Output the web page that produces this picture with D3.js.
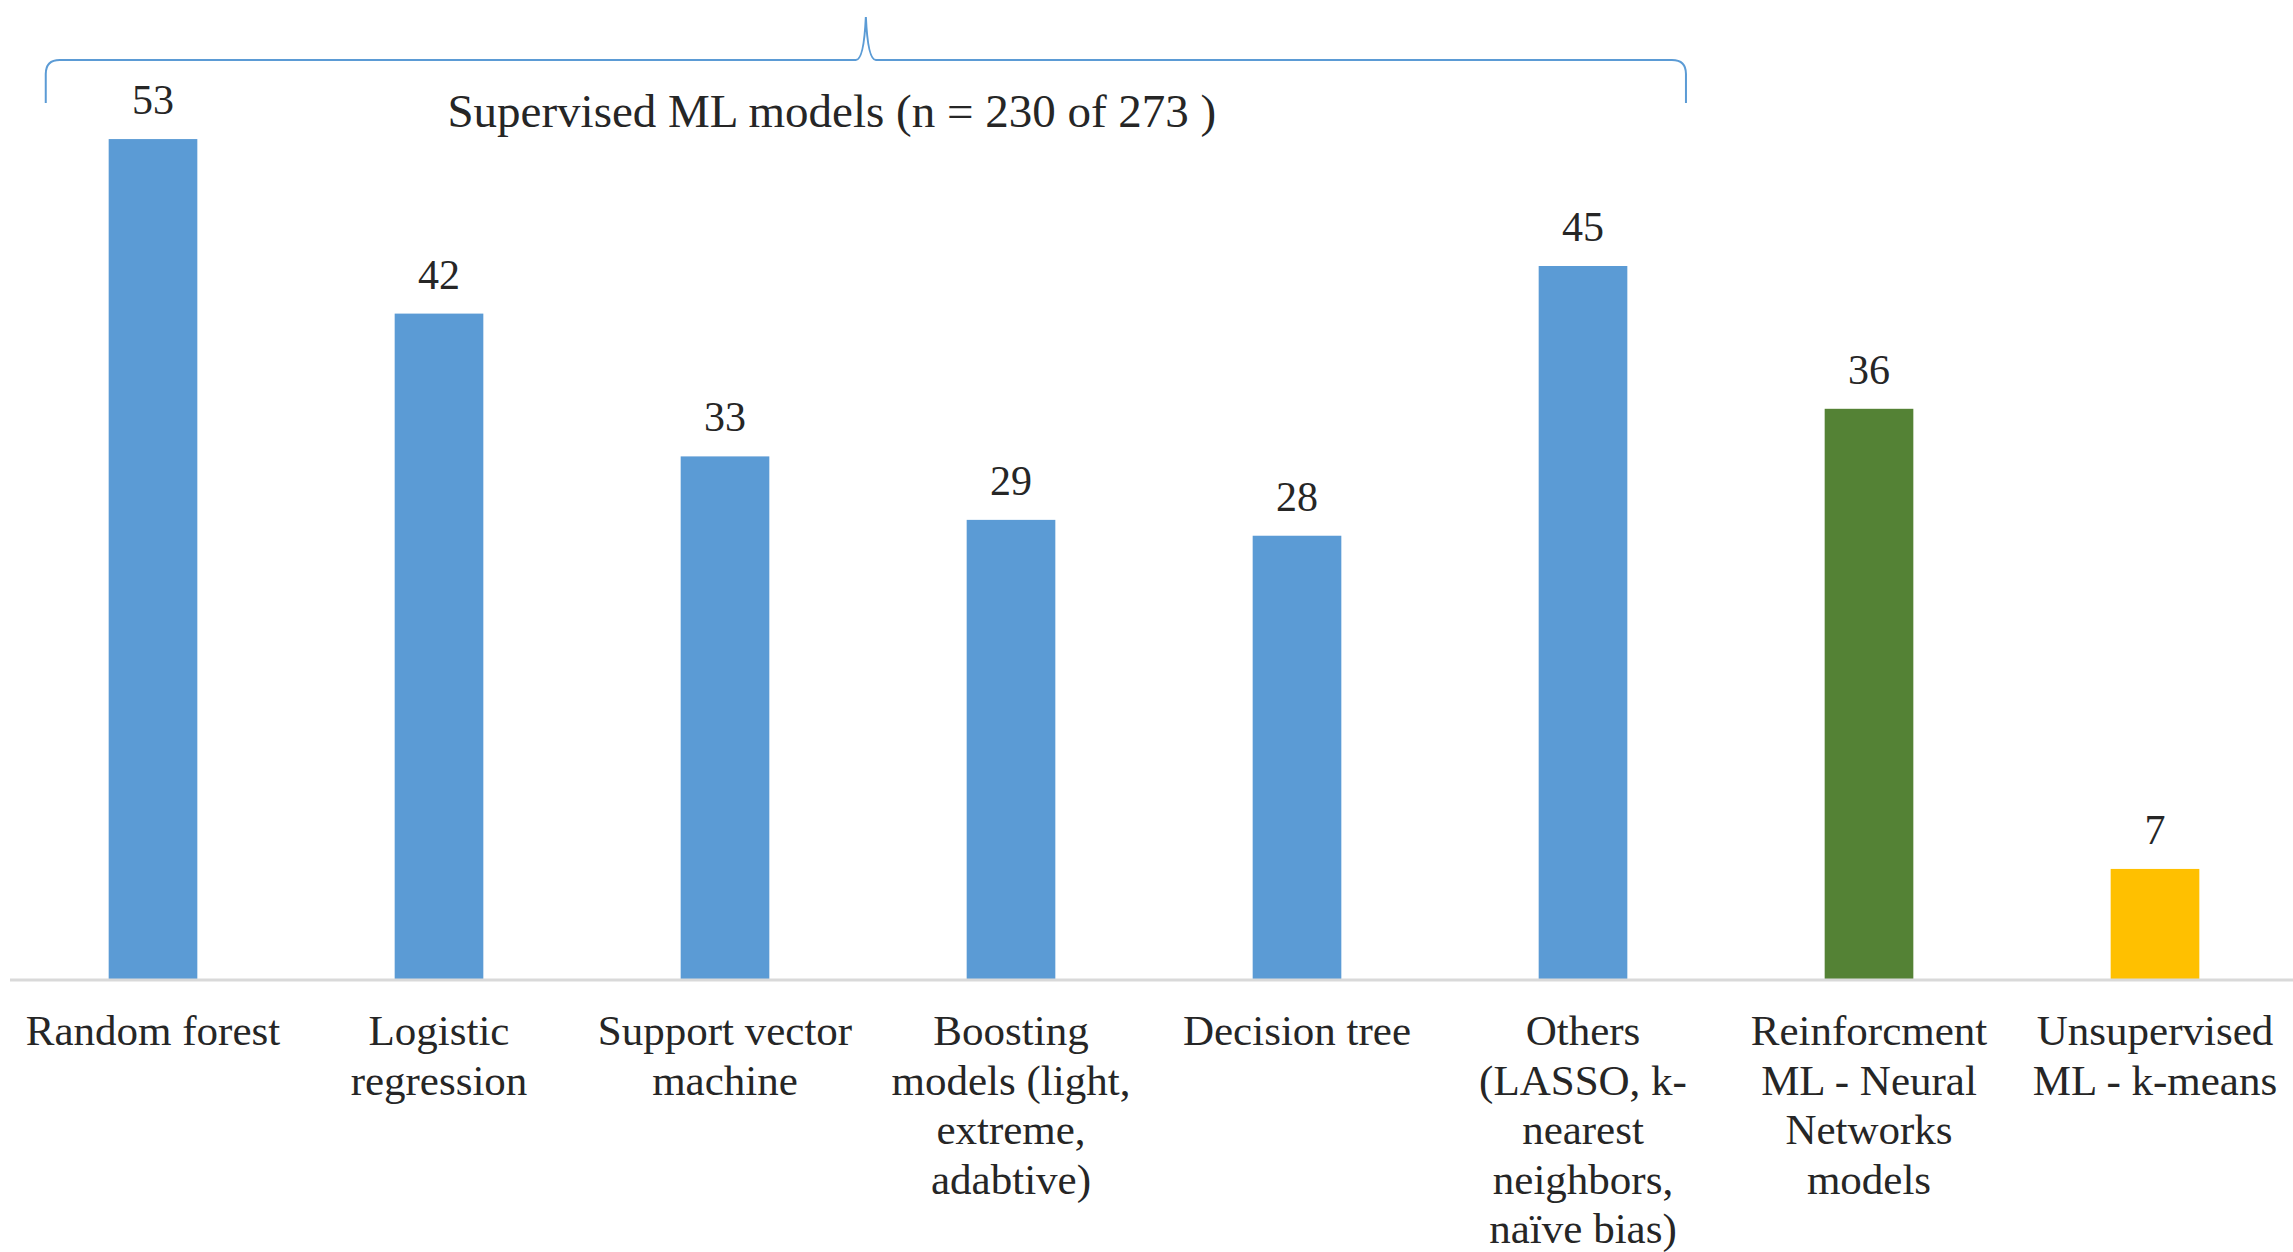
<!DOCTYPE html>
<html>
<head>
<meta charset="utf-8">
<script src="https://cdn.jsdelivr.net/npm/d3@7"></script>
<style>
  html, body { margin: 0; padding: 0; background: #fff; }
  svg { display: block; }
  text { font-family: "Liberation Serif", "Times New Roman", serif; fill: #262626; }
</style>
</head>
<body>
<div id="chart"></div>
<script>
/* CONSTANTS AND GLOBALS */
const width = 2293,
  height = 1252,
  margin = { top: 28, bottom: 272, left: 10, right: -5 };

// data
const categories = [
  "Random forest",
  "Logistic regression",
  "Support vector machine",
  "Boosting models (light, extreme, adabtive)",
  "Decision tree",
  "Others (LASSO, k-nearest neighbors, naïve bias)",
  "Reinforcment ML - Neural Networks models",
  "Unsupervised ML - k-means"
];
const labelLines = [
  ["Random forest"],
  ["Logistic", "regression"],
  ["Support vector", "machine"],
  ["Boosting", "models (light,", "extreme,", "adabtive)"],
  ["Decision tree"],
  ["Others", "(LASSO, k-", "nearest", "neighbors,", "naïve bias)"],
  ["Reinforcment", "ML - Neural", "Networks", "models"],
  ["Unsupervised", "ML - k-means"]
];
const counts = [53, 42, 33, 29, 28, 45, 36, 7];
const groups = ["supervised", "supervised", "supervised", "supervised", "supervised", "supervised", "reinforcement", "unsupervised"];
const bracketLabel = "Supervised ML models (n = 230 of 273 )";
const bracketFirst = 0, bracketLast = 5;

const colors = {
  supervised: "#5b9bd5",
  reinforcement: "#548235",
  unsupervised: "#ffc000"
};

const data = categories.map((c, i) => ({
  category: c,
  lines: labelLines[i],
  value: counts[i],
  group: groups[i]
}));

/* SCALES */
const xScale = d3.scaleBand()
  .domain(categories)
  .range([margin.left, width - margin.right])
  .paddingInner(0.69)
  .paddingOuter(0.345);

const yScale = d3.scaleLinear()
  .domain([0, 60])
  .range([height - margin.bottom, margin.top]);

/* SVG */
const svg = d3.select("#chart")
  .append("svg")
  .attr("width", width)
  .attr("height", height);

// bars
svg.selectAll(".bar")
  .data(data)
  .join("rect")
  .attr("class", "bar")
  .attr("x", d => xScale(d.category))
  .attr("width", xScale.bandwidth())
  .attr("y", d => yScale(d.value))
  .attr("height", d => yScale(0) - yScale(d.value))
  .attr("fill", d => colors[d.group]);

// baseline
svg.append("line")
  .attr("x1", margin.left)
  .attr("x2", width)
  .attr("y1", yScale(0))
  .attr("y2", yScale(0))
  .attr("stroke", "#d9d9d9")
  .attr("stroke-width", 3);

// value labels
svg.selectAll(".value-label")
  .data(data)
  .join("text")
  .attr("class", "value-label")
  .attr("x", d => xScale(d.category) + xScale.bandwidth() / 2)
  .attr("y", d => yScale(d.value) - 25)
  .attr("text-anchor", "middle")
  .attr("font-size", 42)
  .text(d => d.value);

// category labels (wrapped)
const catLabel = svg.selectAll(".cat-label")
  .data(data)
  .join("text")
  .attr("class", "cat-label")
  .attr("text-anchor", "middle")
  .attr("font-size", 43)
  .attr("transform", d => `translate(${xScale(d.category) + xScale.bandwidth() / 2},${yScale(0) + 65})`);

catLabel.selectAll("tspan")
  .data(d => d.lines)
  .join("tspan")
  .attr("x", 0)
  .attr("y", (d, i) => i * 49.5)
  .text(d => d);

// curly bracket over the supervised bars
const step = xScale.step();
const bL = xScale(categories[bracketFirst]) - step * 0.22;
const bR = xScale(categories[bracketLast]) + xScale.bandwidth() + step * 0.205;
const bM = (bL + bR) / 2;
const yLine = 60, yEnd = 103, yTip = 17;

const brace = d3.path();
brace.moveTo(bL, yEnd);
brace.lineTo(bL, yLine + 14);
brace.quadraticCurveTo(bL, yLine, bL + 14, yLine);
brace.lineTo(bM - 10, yLine);
brace.quadraticCurveTo(bM - 2, yLine, bM, yTip);
brace.quadraticCurveTo(bM + 2, yLine, bM + 10, yLine);
brace.lineTo(bR - 14, yLine);
brace.quadraticCurveTo(bR, yLine, bR, yLine + 14);
brace.lineTo(bR, yEnd);

svg.append("path")
  .attr("d", brace.toString())
  .attr("fill", "none")
  .attr("stroke", "#5b9bd5")
  .attr("stroke-width", 2);

svg.append("text")
  .attr("x", bM - 34)
  .attr("y", 127)
  .attr("text-anchor", "middle")
  .attr("font-size", 47)
  .text(bracketLabel);
</script>
</body>
</html>
